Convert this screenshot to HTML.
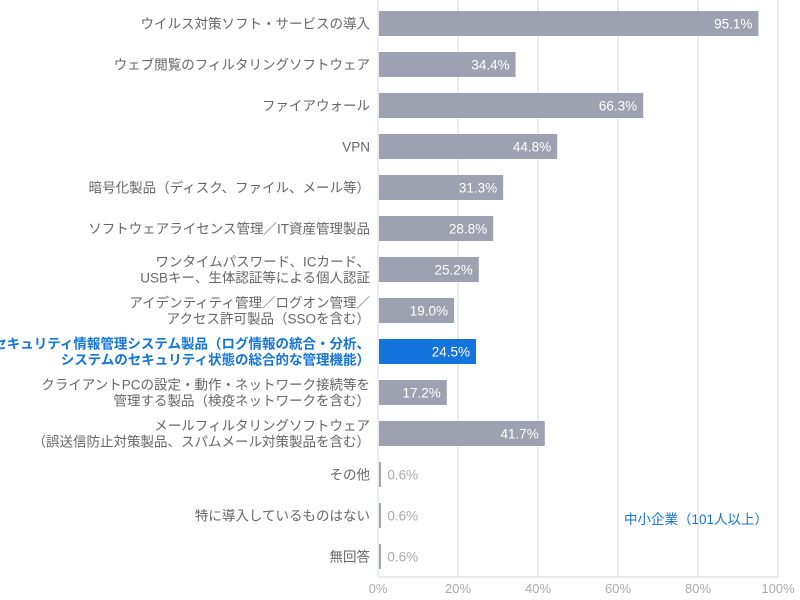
<!DOCTYPE html>
<html><head><meta charset="utf-8"><style>
body{margin:0;background:#fff}
svg{display:block;font-family:"Liberation Sans","Noto Sans CJK JP",sans-serif}
</style></head><body>
<svg id="c" width="800" height="600"></svg>
<script>
const categories=[["ウイルス対策ソフト・サービスの導入"],["ウェブ閲覧のフィルタリングソフトウェア"],["ファイアウォール"],["VPN"],["暗号化製品（ディスク、ファイル、メール等）"],["ソフトウェアライセンス管理／IT資産管理製品"],["ワンタイムパスワード、ICカード、","USBキー、生体認証等による個人認証"],["アイデンティティ管理／ログオン管理／","アクセス許可製品（SSOを含む）"],["セキュリティ情報管理システム製品（ログ情報の統合・分析、","システムのセキュリティ状態の総合的な管理機能）"],["クライアントPCの設定・動作・ネットワーク接続等を","管理する製品（検疫ネットワークを含む）"],["メールフィルタリングソフトウェア","（誤送信防止対策製品、スパムメール対策製品を含む）"],["その他"],["特に導入しているものはない"],["無回答"]];
const values=[95.1,34.4,66.3,44.8,31.3,28.8,25.2,19.0,24.5,17.2,41.7,0.6,0.6,0.6];
const highlightIndex=8;
const ticks=[0,20,40,60,80,100];
const NS="http://www.w3.org/2000/svg";
const svg=document.getElementById('c');
const x0=378,x1=778,yTop=3,yBot=577;
const xs=v=>x0+(x1-x0)*v/100;
const rowH=(yBot-yTop)/categories.length;
const yc=i=>yTop+rowH*(i+0.5);
function mk(t,a){const e=document.createElementNS(NS,t);for(const k in a)e.setAttribute(k,a[k]);svg.appendChild(e);return e;}
ticks.forEach(t=>{
 const g=mk('line',{x1:xs(t),x2:xs(t),y1:0,y2:yBot,stroke:'#e6e6e6','stroke-width':1.5});
 
 
 const l=mk('text',{x:xs(t),y:593,'text-anchor':'middle','font-size':13,fill:'#aaa'});
 l.textContent=t+'%';
 
 
});
const ax=mk('line',{x1:x0,x2:x1,y1:yBot,y2:yBot,stroke:'#e6e6e6','stroke-width':1.5});


values.forEach((v,i)=>{
 const hi=i===highlightIndex;
 const y=yc(i);
 const b=mk('rect',{x:x0+1,y:y-12.5,width:Math.max(xs(v)-x0-1,2),height:25,fill:hi?'#1274dc':'#9ea2b0'});
 
 
 const lines=categories[i];
 lines.forEach((s,j)=>{
  const t=mk('text',{x:370,y:y+5+(j-(lines.length-1)/2)*16,'text-anchor':'end','font-size':13.5,fill:hi?'#1274dc':'#666','font-weight':hi?'bold':'normal'});
  t.textContent=s;
  
  
 });
 const inside=v>10;
 const vl=mk('text',{x:inside?xs(v)-6:xs(v)+7,y:y+5,'text-anchor':inside?'end':'start','font-size':13.5,fill:inside?'#fff':'#aaa'});
 vl.textContent=v.toFixed(1)+'%';
 
 
});
const lg=mk('text',{x:768,y:524,'text-anchor':'end','font-size':13.5,fill:'#1274dc'});
lg.textContent='中小企業（101人以上）';


</script>
</body></html>
